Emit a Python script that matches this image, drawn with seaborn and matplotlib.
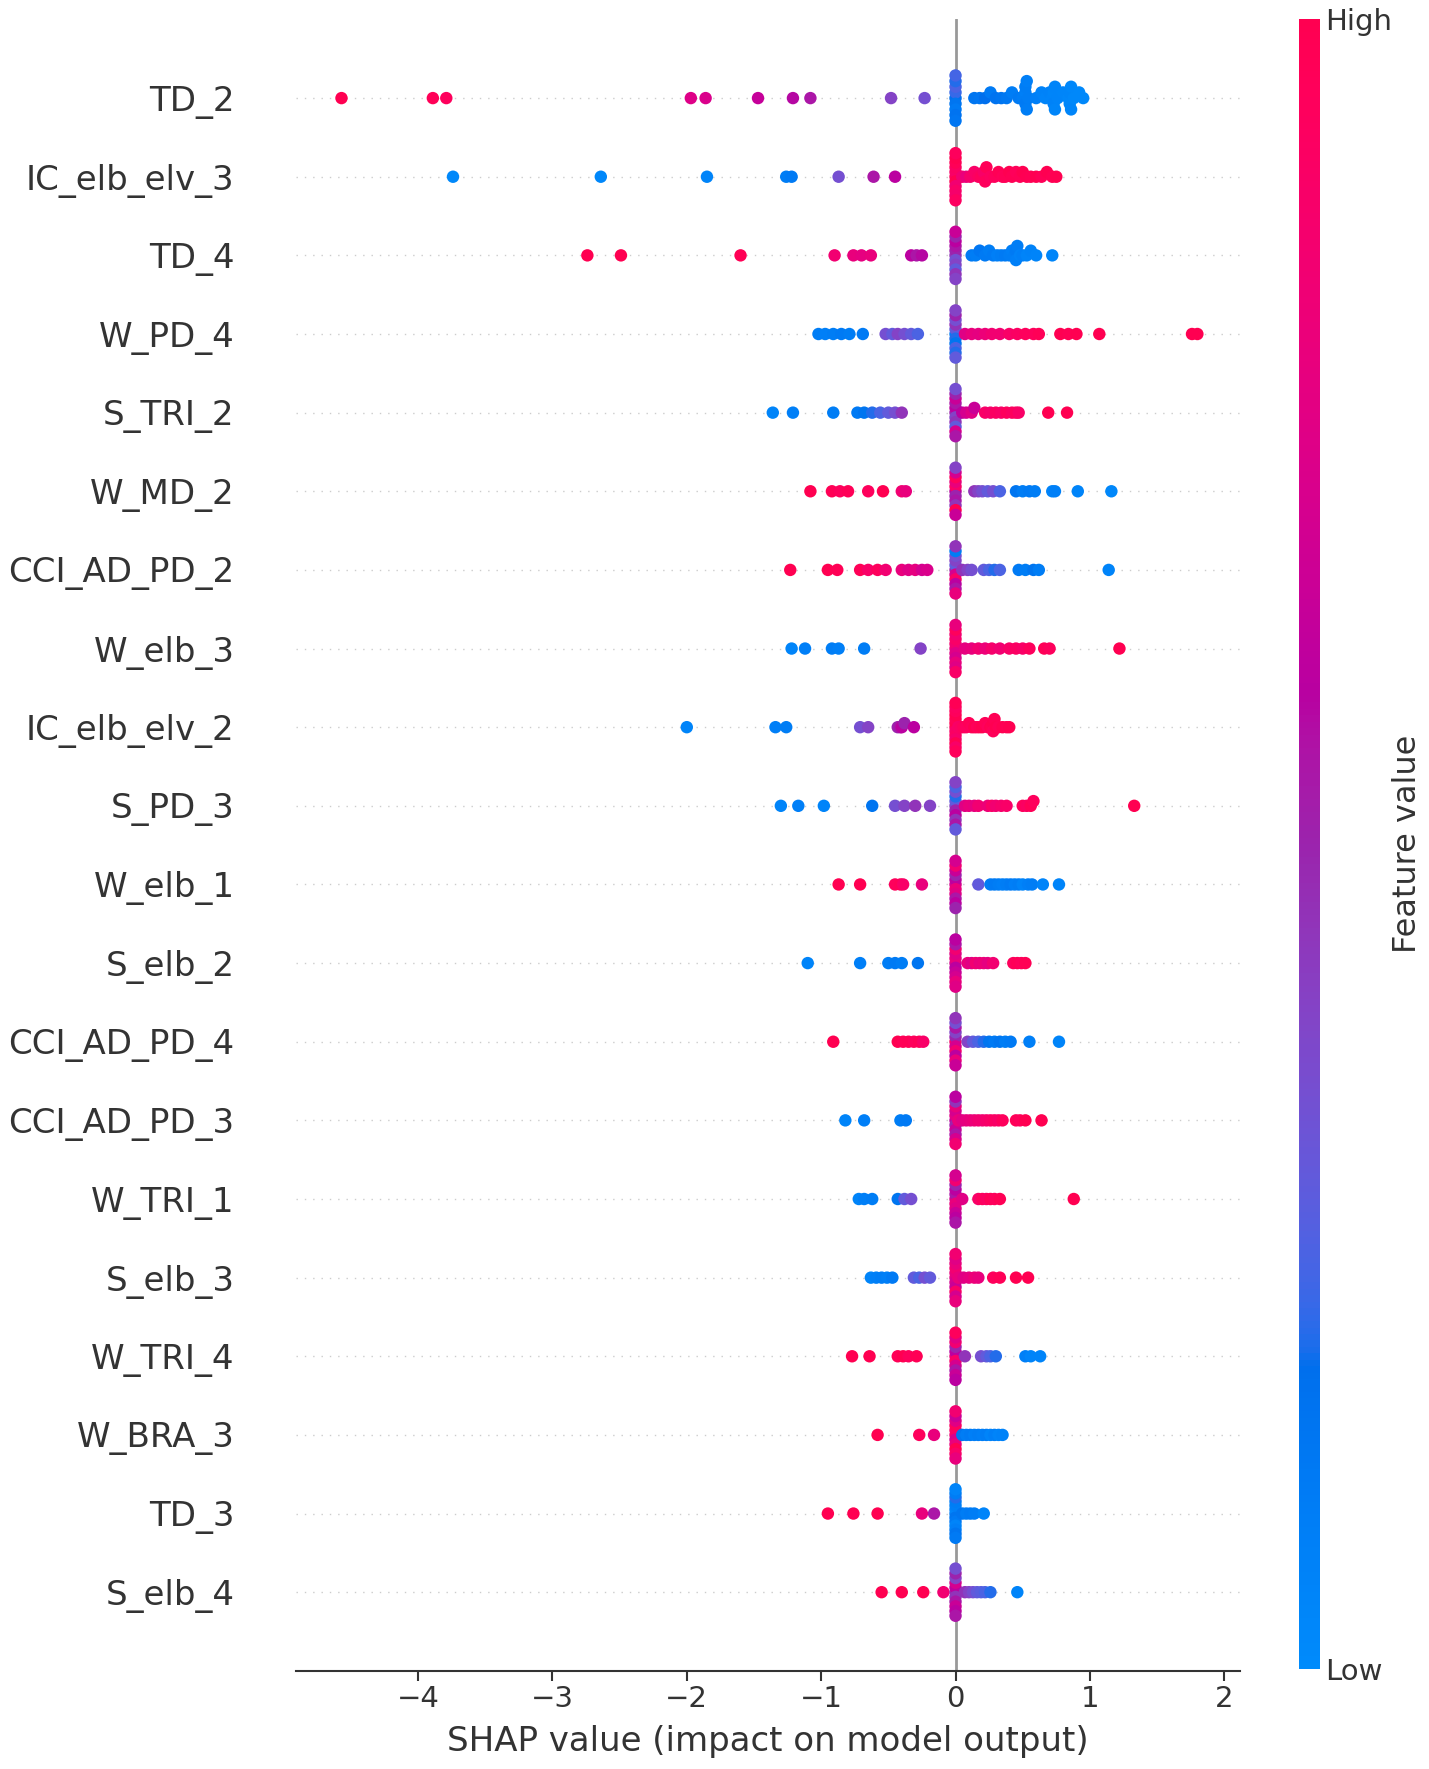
import matplotlib
matplotlib.use('Agg')
import matplotlib.pyplot as plt
from matplotlib.colors import LinearSegmentedColormap
from matplotlib.cm import ScalarMappable
import numpy as np
import pandas as pd
import seaborn as sns

# feature names, top to bottom
features = ["TD_2", "IC_elb_elv_3", "TD_4", "W_PD_4", "S_TRI_2", "W_MD_2",
            "CCI_AD_PD_2", "W_elb_3", "IC_elb_elv_2", "S_PD_3", "W_elb_1",
            "S_elb_2", "CCI_AD_PD_4", "CCI_AD_PD_3", "W_TRI_1", "S_elb_3",
            "W_TRI_4", "W_BRA_3", "TD_3", "S_elb_4"]

# (shap value, normalised feature value) per sample
td_2 = [(-4.57, 1.0), (-3.89, 0.97), (-3.79, 0.95), (-1.97, 0.74), (-1.86, 0.72),
        (-1.47, 0.64), (-1.21, 0.58), (-1.08, 0.55), (-0.48, 0.40), (-0.23, 0.35),
        (0, 0.18), (0, 0.22), (0, 0.15), (0, 0.25), (0, 0.12), (0, 0.20),
        (0, 0.16), (0, 0.24), (0, 0.14),
        (0.14, 0.15), (0.18, 0.14), (0.22, 0.18), (0.26, 0.12), (0.30, 0.16),
        (0.34, 0.15), (0.38, 0.13), (0.42, 0.10), (0.47, 0.12), (0.50, 0.10),
        (0.52, 0.08), (0.52, 0.12), (0.52, 0.10), (0.53, 0.10), (0.53, 0.08),
        (0.54, 0.10), (0.60, 0.08), (0.64, 0.06), (0.67, 0.05), (0.70, 0.06),
        (0.72, 0.05), (0.73, 0.04), (0.73, 0.06), (0.74, 0.05), (0.74, 0.04),
        (0.76, 0.05), (0.80, 0.04), (0.84, 0.03), (0.85, 0.04), (0.85, 0.03),
        (0.86, 0.03), (0.86, 0.04), (0.88, 0.02), (0.92, 0.02), (0.95, 0.02)]
ic_elb_elv_3 = [(-3.74, 0.02), (-2.64, 0.03), (-1.85, 0.05), (-1.26, 0.10), (-1.22, 0.12),
                (-0.87, 0.35), (-0.61, 0.55), (-0.45, 0.60),
                (0, 0.95), (0, 0.90), (0, 1.0), (0, 0.92), (0, 0.85), (0, 0.97),
                (0, 0.90), (0, 1.0), (0, 0.88), (0, 0.95), (0, 0.93),
                (0.05, 0.85), (0.08, 0.80), (0.11, 0.88), (0.14, 0.90), (0.17, 0.92),
                (0.19, 0.95), (0.21, 0.90), (0.22, 0.95), (0.23, 0.97), (0.26, 0.93),
                (0.29, 0.95), (0.32, 0.98), (0.35, 0.96), (0.37, 0.97), (0.40, 1.0),
                (0.42, 0.98), (0.45, 0.96), (0.48, 0.97), (0.50, 1.0), (0.53, 0.99),
                (0.56, 0.98), (0.60, 1.0), (0.64, 0.97), (0.68, 1.0), (0.72, 0.98),
                (0.75, 1.0)]
td_4 = [(-2.74, 1.0), (-2.49, 1.0), (-1.60, 0.98), (-0.90, 0.85), (-0.76, 0.80),
        (-0.70, 0.78), (-0.63, 0.80), (-0.33, 0.60), (-0.29, 0.55), (-0.25, 0.58),
        (0, 0.45), (0, 0.50), (0, 0.35), (0, 0.55), (0, 0.40), (0, 0.60),
        (0, 0.30), (0, 0.50), (0, 0.45), (0, 0.65), (0, 0.40),
        (0.12, 0.12), (0.15, 0.10), (0.18, 0.14), (0.22, 0.12), (0.25, 0.10),
        (0.28, 0.12), (0.31, 0.08), (0.34, 0.10), (0.37, 0.12), (0.40, 0.10),
        (0.42, 0.08), (0.44, 0.10), (0.45, 0.12), (0.45, 0.08), (0.46, 0.10),
        (0.48, 0.06), (0.50, 0.08), (0.53, 0.05), (0.56, 0.06), (0.60, 0.05),
        (0.72, 0.04)]
w_pd_4 = [(-1.02, 0.10), (-0.97, 0.08), (-0.91, 0.10), (-0.85, 0.12), (-0.79, 0.10),
          (-0.69, 0.12), (-0.52, 0.35), (-0.47, 0.30), (-0.43, 0.40), (-0.38, 0.35),
          (-0.33, 0.30), (-0.28, 0.25),
          (0, 0.10), (0, 0.30), (0, 0.20), (0, 0.45), (0, 0.15), (0, 0.35),
          (0, 0.25), (0, 0.50), (0, 0.20), (0, 0.40), (0, 0.30),
          (0.07, 0.75), (0.12, 0.80), (0.17, 0.78), (0.22, 0.82), (0.27, 0.85),
          (0.33, 0.85), (0.40, 0.90), (0.46, 0.92), (0.52, 0.95), (0.58, 0.95),
          (0.62, 0.97), (0.78, 1.0), (0.84, 0.98), (0.90, 1.0), (1.07, 1.0),
          (1.76, 1.0), (1.80, 1.0)]
s_tri_2 = [(-1.36, 0.05), (-1.21, 0.08), (-0.91, 0.10), (-0.73, 0.12), (-0.68, 0.15),
           (-0.62, 0.20), (-0.56, 0.25), (-0.50, 0.30), (-0.45, 0.35), (-0.40, 0.45),
           (0, 0.50), (0, 0.60), (0, 0.40), (0, 0.55), (0, 0.45), (0, 0.65),
           (0, 0.30), (0, 0.50), (0, 0.70), (0, 0.35), (0, 0.55),
           (0.05, 0.60), (0.08, 0.70), (0.12, 0.75), (0.14, 0.65), (0.22, 0.90),
           (0.26, 0.88), (0.30, 0.92), (0.34, 0.90), (0.38, 0.95), (0.42, 0.92),
           (0.45, 0.95), (0.47, 0.90), (0.69, 1.0), (0.83, 1.0)]
w_md_2 = [(-1.08, 1.0), (-0.92, 0.98), (-0.86, 0.95), (-0.80, 0.97), (-0.65, 0.95),
          (-0.54, 1.0), (-0.40, 0.85), (-0.37, 0.80),
          (0, 0.60), (0, 0.90), (0, 0.50), (0, 0.80), (0, 0.55), (0, 0.95),
          (0, 0.45), (0, 0.70), (0, 1.0), (0, 0.40), (0, 0.65),
          (0.14, 0.45), (0.17, 0.40), (0.20, 0.35), (0.24, 0.30), (0.28, 0.35),
          (0.33, 0.25), (0.45, 0.15), (0.50, 0.10), (0.55, 0.12), (0.59, 0.10),
          (0.72, 0.05), (0.74, 0.08), (0.91, 0.05), (1.16, 0.03)]
cci_ad_pd_2 = [(-1.23, 1.0), (-0.95, 1.0), (-0.88, 0.98), (-0.71, 0.97), (-0.65, 0.90),
               (-0.58, 0.95), (-0.52, 0.85), (-0.40, 0.80), (-0.35, 0.75), (-0.30, 0.78),
               (-0.25, 0.70), (-0.21, 0.72),
               (0, 0.50), (0, 0.30), (0, 0.70), (0, 0.40), (0, 0.90), (0, 0.35),
               (0, 0.60), (0, 0.10), (0, 0.55), (0, 0.45), (0, 0.80),
               (0.05, 0.45), (0.09, 0.40), (0.12, 0.35), (0.21, 0.30), (0.25, 0.25),
               (0.29, 0.20), (0.33, 0.25), (0.47, 0.12), (0.52, 0.10), (0.58, 0.15),
               (0.62, 0.10), (1.14, 0.05)]
w_elb_3 = [(-1.22, 0.05), (-1.12, 0.08), (-0.92, 0.10), (-0.87, 0.08), (-0.68, 0.10),
           (-0.26, 0.40),
           (0, 0.80), (0, 0.85), (0, 0.75), (0, 0.90), (0, 0.70), (0, 0.85),
           (0, 0.80), (0, 0.95), (0, 0.75), (0, 0.80), (0, 0.90),
           (0.07, 0.78), (0.12, 0.80), (0.17, 0.85), (0.22, 0.82), (0.27, 0.88),
           (0.33, 0.85), (0.40, 0.90), (0.45, 0.92), (0.50, 0.90), (0.55, 0.95),
           (0.66, 0.97), (0.70, 0.95), (1.22, 1.0)]
ic_elb_elv_2 = [(-2.00, 0.05), (-1.34, 0.08), (-1.26, 0.10), (-0.71, 0.35), (-0.65, 0.40),
                (-0.43, 0.50), (-0.41, 0.55), (-0.40, 0.60), (-0.38, 0.50), (-0.31, 0.60),
                (0, 0.95), (0, 1.0), (0, 0.90), (0, 0.97), (0, 0.92), (0, 1.0),
                (0, 0.88), (0, 0.95), (0, 1.0), (0, 0.93), (0, 0.90), (0, 0.98),
                (0, 0.96),
                (0.02, 0.90), (0.04, 0.92), (0.06, 0.95), (0.08, 0.93), (0.10, 0.97),
                (0.12, 0.95), (0.14, 1.0), (0.16, 0.96), (0.18, 0.98), (0.20, 1.0),
                (0.22, 0.97), (0.24, 0.95), (0.26, 1.0), (0.27, 0.98), (0.28, 1.0),
                (0.28, 0.96), (0.29, 0.98), (0.30, 1.0), (0.32, 0.97), (0.35, 1.0),
                (0.38, 0.98), (0.40, 1.0)]
s_pd_3 = [(-1.30, 0.05), (-1.17, 0.08), (-0.98, 0.05), (-0.62, 0.15), (-0.45, 0.35),
          (-0.38, 0.40), (-0.30, 0.45), (-0.19, 0.40),
          (0, 0.40), (0, 0.30), (0, 0.50), (0, 0.20), (0, 0.60), (0, 0.35),
          (0, 0.45), (0, 0.25), (0, 0.55), (0, 0.40), (0, 0.30),
          (0.07, 0.75), (0.10, 0.80), (0.14, 0.78), (0.17, 0.85), (0.24, 0.82),
          (0.27, 0.90), (0.30, 0.85), (0.34, 0.88), (0.38, 0.90), (0.50, 0.95),
          (0.53, 0.92), (0.56, 0.97), (0.58, 0.95), (1.33, 1.0)]
w_elb_1 = [(-0.87, 1.0), (-0.71, 1.0), (-0.45, 0.95), (-0.41, 0.97), (-0.39, 0.90),
           (-0.25, 0.80),
           (0, 0.70), (0, 0.60), (0, 0.80), (0, 0.50), (0, 0.75), (0, 0.65),
           (0, 0.55), (0, 0.85), (0, 0.60), (0, 0.70), (0, 0.50),
           (0.17, 0.30), (0.26, 0.10), (0.29, 0.12), (0.32, 0.10), (0.35, 0.08),
           (0.38, 0.10), (0.41, 0.12), (0.44, 0.08), (0.47, 0.10), (0.50, 0.05),
           (0.54, 0.08), (0.57, 0.10), (0.65, 0.05), (0.77, 0.05)]
s_elb_2 = [(-1.10, 0.05), (-0.71, 0.08), (-0.50, 0.10), (-0.45, 0.12), (-0.40, 0.10),
           (-0.28, 0.15),
           (0, 0.70), (0, 0.80), (0, 0.60), (0, 0.75), (0, 0.65), (0, 0.85),
           (0, 0.70), (0, 0.55), (0, 0.80), (0, 0.60), (0, 0.75),
           (0.09, 0.80), (0.12, 0.75), (0.15, 0.85), (0.18, 0.80), (0.21, 0.82),
           (0.24, 0.78), (0.28, 0.85), (0.43, 0.95), (0.46, 0.97), (0.49, 0.95),
           (0.52, 0.98)]
cci_ad_pd_4 = [(-0.91, 1.0), (-0.43, 1.0), (-0.39, 0.97), (-0.35, 0.98), (-0.31, 0.95),
               (-0.27, 0.97), (-0.24, 0.90),
               (0, 0.90), (0, 0.50), (0, 0.70), (0, 0.40), (0, 0.85), (0, 0.55),
               (0, 0.60), (0, 0.35), (0, 0.80), (0, 0.45), (0, 0.65),
               (0.09, 0.40), (0.13, 0.30), (0.17, 0.25), (0.21, 0.20), (0.25, 0.15),
               (0.29, 0.12), (0.33, 0.15), (0.37, 0.10), (0.41, 0.12), (0.55, 0.08),
               (0.77, 0.05)]
cci_ad_pd_3 = [(-0.82, 0.05), (-0.68, 0.08), (-0.41, 0.10), (-0.37, 0.12),
               (0, 0.60), (0, 0.75), (0, 0.50), (0, 0.70), (0, 0.65), (0, 0.80),
               (0, 0.55), (0, 0.45), (0, 0.70), (0, 0.60), (0, 0.85),
               (0.02, 0.80), (0.05, 0.75), (0.08, 0.78), (0.11, 0.80), (0.14, 0.82),
               (0.17, 0.85), (0.20, 0.85), (0.23, 0.88), (0.26, 0.90), (0.29, 0.92),
               (0.32, 0.90), (0.35, 0.95), (0.45, 0.97), (0.48, 0.95), (0.52, 1.0),
               (0.64, 1.0)]
w_tri_1 = [(-0.72, 0.05), (-0.68, 0.08), (-0.62, 0.10), (-0.43, 0.15), (-0.38, 0.30),
           (-0.33, 0.35),
           (0, 0.70), (0, 0.55), (0, 0.80), (0, 0.60), (0, 0.75), (0, 0.50),
           (0, 0.65), (0, 0.85), (0, 0.60), (0, 0.70), (0, 0.55),
           (0.05, 0.75), (0.17, 0.90), (0.20, 0.95), (0.23, 0.92), (0.26, 0.97),
           (0.29, 0.95), (0.33, 0.98), (0.88, 1.0)]
s_elb_3 = [(-0.63, 0.05), (-0.59, 0.08), (-0.55, 0.10), (-0.51, 0.08), (-0.47, 0.12),
           (-0.31, 0.30), (-0.27, 0.25), (-0.23, 0.35), (-0.19, 0.30),
           (0, 0.75), (0, 0.80), (0, 0.70), (0, 0.85), (0, 0.65), (0, 0.80),
           (0, 0.90), (0, 0.75), (0, 0.70), (0, 0.85), (0, 0.80),
           (0.02, 0.80), (0.06, 0.75), (0.10, 0.78), (0.14, 0.82), (0.17, 0.80),
           (0.28, 0.95), (0.33, 0.97), (0.45, 1.0), (0.54, 1.0)]
w_tri_4 = [(-0.77, 1.0), (-0.64, 1.0), (-0.43, 0.97), (-0.39, 1.0), (-0.35, 0.95),
           (-0.29, 0.98),
           (0, 0.80), (0, 0.60), (0, 0.90), (0, 0.50), (0, 0.70), (0, 0.85),
           (0, 0.55), (0, 0.75), (0, 0.65), (0, 0.95), (0, 0.60),
           (0.07, 0.45), (0.19, 0.35), (0.23, 0.30), (0.26, 0.25), (0.30, 0.20),
           (0.52, 0.08), (0.56, 0.05), (0.63, 0.05)]
w_bra_3 = [(-0.58, 1.0), (-0.27, 0.95), (-0.16, 0.80),
           (0, 0.85), (0, 0.90), (0, 0.70), (0, 0.95), (0, 0.80), (0, 0.75),
           (0, 1.0), (0, 0.65), (0, 0.90), (0, 0.85), (0, 0.80),
           (0.05, 0.15), (0.08, 0.10), (0.11, 0.12), (0.14, 0.08), (0.17, 0.10),
           (0.20, 0.08), (0.23, 0.10), (0.26, 0.05), (0.29, 0.08), (0.32, 0.05),
           (0.35, 0.06)]
td_3 = [(-0.95, 1.0), (-0.76, 1.0), (-0.58, 1.0), (-0.25, 0.80), (-0.16, 0.55),
        (0, 0.10), (0, 0.05), (0, 0.15), (0, 0.08), (0, 0.12), (0, 0.10),
        (0, 0.05), (0, 0.20), (0, 0.08), (0, 0.10), (0, 0.15), (0, 0.05),
        (0, 0.12),
        (0.05, 0.15), (0.08, 0.10), (0.11, 0.12), (0.14, 0.10), (0.21, 0.05)]
s_elb_4 = [(-0.55, 1.0), (-0.40, 1.0), (-0.24, 1.0), (-0.09, 0.85),
           (0, 0.50), (0, 0.60), (0, 0.45), (0, 0.70), (0, 0.55), (0, 0.40),
           (0, 0.65), (0, 0.50), (0, 0.60), (0, 0.35), (0, 0.55),
           (0.07, 0.45), (0.10, 0.40), (0.13, 0.35), (0.16, 0.30), (0.19, 0.28),
           (0.22, 0.25), (0.26, 0.20), (0.46, 0.05)]

rows = [td_2, ic_elb_elv_3, td_4, w_pd_4, s_tri_2, w_md_2, cci_ad_pd_2, w_elb_3,
        ic_elb_elv_2, s_pd_3, w_elb_1, s_elb_2, cci_ad_pd_4, cci_ad_pd_3, w_tri_1,
        s_elb_3, w_tri_4, w_bra_3, td_3, s_elb_4]


def lch_to_rgb(l, c, h):
    # CIE LCh -> sRGB (D65)
    a, b = c * np.cos(h), c * np.sin(h)
    fy = (l + 16) / 116
    fx, fz = fy + a / 500, fy - b / 200
    finv = lambda t: t ** 3 if t > 6 / 29 else 3 * (6 / 29) ** 2 * (t - 4 / 29)
    x, y, z = 0.95047 * finv(fx), finv(fy), 1.08883 * finv(fz)
    lin = np.array([3.2406 * x - 1.5372 * y - 0.4986 * z,
                    -0.9689 * x + 1.8758 * y + 0.0415 * z,
                    0.0557 * x - 0.2040 * y + 1.0570 * z])
    rgb = np.where(lin > 0.0031308, 1.055 * np.abs(lin) ** (1 / 2.4) - 0.055, 12.92 * lin)
    return np.clip(rgb, 0, 1)


# shap-style red/blue colormap
nsteps = 100
l_vals = list(np.linspace(54., 40., nsteps // 2)) + list(np.linspace(40., 54., nsteps // 2))
c_vals = np.linspace(70., 90., nsteps)
h_vals = np.linspace(4.6588, 0.35470565 + 2 * np.pi, nsteps)
red_blue = LinearSegmentedColormap.from_list(
    "red_blue", [lch_to_rgb(l, c, h) for l, c, h in zip(l_vals, c_vals, h_vals)])


def swarm_offsets(vals, row_height=0.4, nbins=100):
    vals = np.asarray(vals, float)
    quant = np.round(nbins * (vals - vals.min()) / (vals.max() - vals.min() + 1e-8))
    order = np.argsort(quant, kind="stable")
    ys = np.zeros(len(vals))
    layer, last_bin = 0, -1
    for i in order:
        if quant[i] != last_bin:
            layer = 0
        ys[i] = np.ceil(layer / 2) * ((layer % 2) * 2 - 1)
        layer += 1
        last_bin = quant[i]
    ys *= 0.9 * (row_height / np.max(ys + 1))
    return ys


n = len(features)
frames = []
for i, row in enumerate(rows):
    shap_vals = np.array([p[0] for p in row])
    feat_vals = np.array([p[1] for p in row])
    pos = n - 1 - i
    frames.append(pd.DataFrame({"shap": shap_vals,
                                "y": pos + swarm_offsets(shap_vals),
                                "feat": feat_vals}))
df = pd.concat(frames, ignore_index=True)

sns.set_style("white")
plt.rcParams['font.family'] = ['DejaVu Sans']

fig = plt.figure(figsize=(14.29, 17.69), dpi=100)
ax = fig.add_axes([0.207, 0.0555, 0.661, 0.9335])
cax = fig.add_axes([0.909, 0.0565, 0.0147, 0.9325])

ax.axvline(0, color="#999999", lw=2, zorder=-1)
for pos in range(n):
    ax.axhline(pos, color="#cccccc", lw=1, dashes=(1, 5), zorder=-1)

sns.scatterplot(data=df, x="shap", y="y", hue="feat", palette=red_blue,
                hue_norm=(0, 1), s=80, linewidth=0, legend=False, ax=ax, zorder=3)

ax.set_xlim(-4.91, 2.12)
ax.set_ylim(-1, n)
ax.set_yticks(range(n))
ax.set_yticklabels(features[::-1], fontsize=24.5, color="#333333")
ax.tick_params(axis="y", length=0, pad=44)
ax.set_xticks([-4, -3, -2, -1, 0, 1, 2])
ax.set_xticklabels(["\u22124", "\u22123", "\u22122", "\u22121", "0", "1", "2"])
ax.tick_params(axis="x", labelsize=21, color="#333333", labelcolor="#333333",
               length=7, width=1.5, direction="out", bottom=True)
ax.set_xlabel("SHAP value (impact on model output)", fontsize=24.5, color="#333333",
              labelpad=8)
ax.set_ylabel("")
for side in ["top", "right", "left"]:
    ax.spines[side].set_visible(False)
ax.spines["bottom"].set_color("#333333")
ax.spines["bottom"].set_linewidth(1.5)
ax.grid(False)

sm = ScalarMappable(cmap=red_blue, norm=plt.Normalize(0, 1))
cb = fig.colorbar(sm, cax=cax, ticks=[0, 1])
cb.set_ticklabels(["Low", "High"])
cb.ax.tick_params(labelsize=21, length=0, labelcolor="#333333")
cb.set_label("Feature value", size=23, labelpad=0, color="#333333")
cb.outline.set_visible(False)

fig.savefig("out.png", dpi=100)
plt.close(fig)
